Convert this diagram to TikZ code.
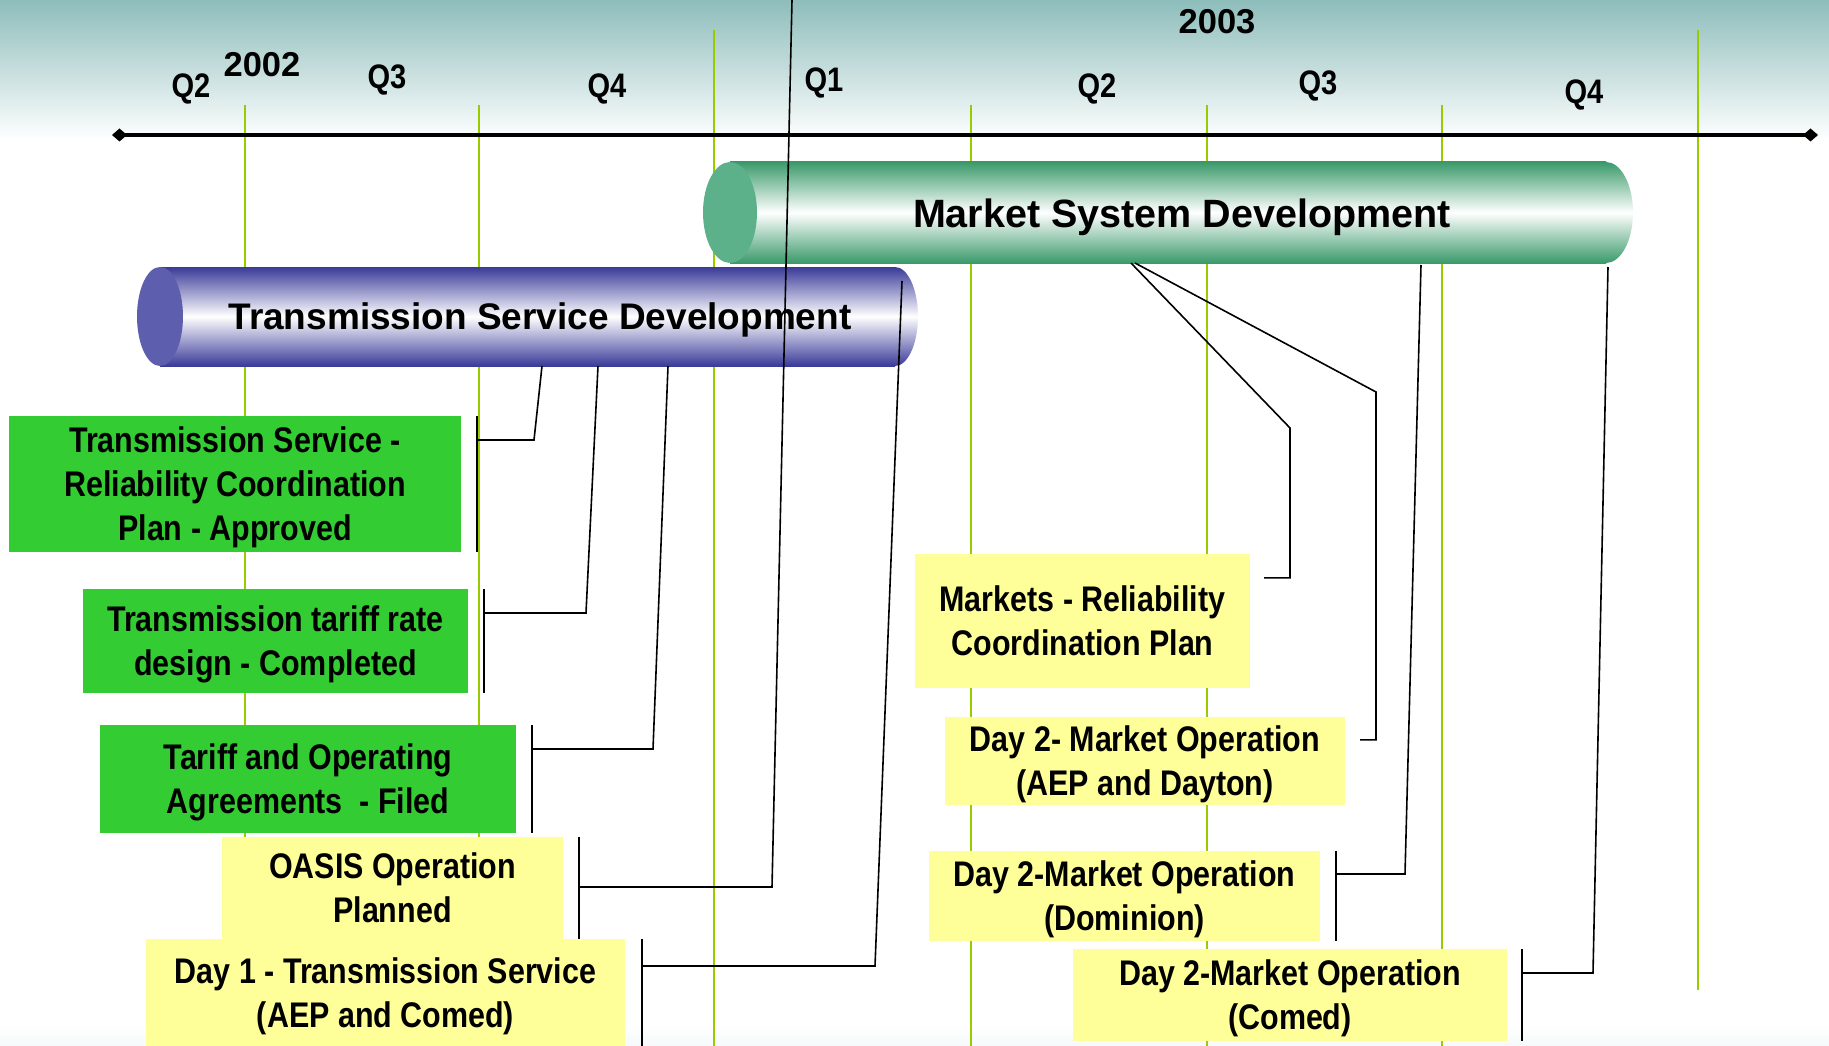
\documentclass[tikz,border=0pt]{standalone}
\usepackage{fontspec}
\setmainfont{Liberation Sans}
\newfontfamily\narrowfont{Liberation Sans}[FakeStretch=0.855]
\usetikzlibrary{arrows.meta}
\definecolor{skyteal}{HTML}{8DBDBB}
\definecolor{gridgreen}{HTML}{99CC00}
\definecolor{msdark}{HTML}{3A9A6A}
\definecolor{msend}{HTML}{5CB08A}
\definecolor{tsdark}{HTML}{3A3A99}
\definecolor{tsend}{HTML}{5E5EAE}
\definecolor{donegreen}{HTML}{33CC33}
\definecolor{planyellow}{HTML}{FFFF99}

\begin{document}
\begin{tikzpicture}[x=1pt,y=-1pt]
\tikzstyle{every node}=[font=\bfseries]
\tikzstyle{quarterlabel}=[font=\narrowfont\bfseries\fontsize{34pt}{40pt}\selectfont]
\tikzstyle{yearlabel}=[font=\bfseries\fontsize{34.5pt}{40pt}\selectfont]
\tikzstyle{gridline}=[gridgreen, line width=2pt]
\tikzstyle{donebox}=[fill=donegreen, align=center, inner sep=0pt, text depth=0pt, font=\narrowfont\bfseries\fontsize{35.6pt}{44pt}\selectfont]
\tikzstyle{planbox}=[donebox, fill=planyellow]
\tikzstyle{linkline}=[line width=1.6pt]
\tikzstyle{mstube}=[top color=msdark, bottom color=msdark, middle color=white]
\tikzstyle{tstube}=[top color=tsdark, bottom color=tsdark, middle color=white]

\useasboundingbox (0,0) rectangle (1829,1046);
\fill[white] (0,0) rectangle (1829,1046);
\shade[top color=skyteal, bottom color=white] (0,0) rectangle (1829,140);
\shade[top color=white, bottom color=skyteal!8] (0,1025) rectangle (1829,1046);

\draw[gridline] (245,105) -- (245,1046);
\draw[gridline] (479,105) -- (479,1046);
\draw[gridline] (714,30) -- (714,1046);
\draw[gridline] (971,105) -- (971,1046);
\draw[gridline] (1207,105) -- (1207,1046);
\draw[gridline] (1442,105) -- (1442,1046);
\draw[gridline] (1698,30) -- (1698,990);

\coordinate (axl) at (112,135);
\coordinate (axr) at (1818,135);
\draw[line width=4pt, {Diamond[length=15pt,width=13pt]}-{Diamond[length=15pt,width=13pt]}] (axl) -- (axr);

\node[quarterlabel] (qa) at (191,89) {Q2};
\node[yearlabel] (ya) at (262,65) {2002};
\node[quarterlabel] (qb) at (387,80) {Q3};
\node[quarterlabel] (qc) at (607,89) {Q4};
\node[quarterlabel] (qd) at (824,83) {Q1};
\node[yearlabel] (yb) at (1217,22) {2003};
\node[quarterlabel] (qe) at (1097,89) {Q2};
\node[quarterlabel] (qf) at (1318,86) {Q3};
\node[quarterlabel] (qg) at (1584,95) {Q4};

\shade[mstube] (1606,212.5) ellipse [x radius=27pt, y radius=50.5pt];
\shade[mstube] (730,162) rectangle (1606,263);
\fill[msend] (730,212.5) ellipse [x radius=27pt, y radius=50.5pt];
\node[text depth=0pt, font=\bfseries\fontsize{39.5pt}{44pt}\selectfont] (msd) at (1182,213) {Market System Development};

\shade[tstube] (895,316.5) ellipse [x radius=23pt, y radius=49.5pt];
\shade[tstube] (160,267) rectangle (895,366);
\fill[tsend] (160,316.5) ellipse [x radius=23pt, y radius=49.5pt];
\node[text depth=0pt, font=\bfseries\fontsize{37pt}{44pt}\selectfont] (tsd) at (540,316) {Transmission Service Development};

\node[donebox, minimum width=452pt, minimum height=136pt] (tsplan) at (235,484) {Transmission Service -\\Reliability Coordination\\Plan - Approved};
\node[donebox, minimum width=385pt, minimum height=104pt] (tariff) at (275.5,641) {Transmission tariff rate\\design - Completed};
\node[donebox, minimum width=416pt, minimum height=108pt] (agree) at (308,779) {Tariff and Operating\\Agreements\ \ - Filed};
\node[planbox, minimum width=341pt, minimum height=102pt] (oasis) at (392.5,888) {OASIS Operation\\Planned};
\node[planbox, minimum width=479pt, minimum height=107pt] (dayone) at (385.5,992.5) {Day 1 - Transmission Service\\(AEP and Comed)};
\node[planbox, minimum width=335pt, minimum height=134pt] (mrcp) at (1082.5,621) {Markets - Reliability\\Coordination Plan};
\node[planbox, minimum width=400pt, minimum height=88pt] (dayton) at (1145,761) {Day 2- Market Operation\\(AEP and Dayton)};
\node[planbox, minimum width=391pt, minimum height=90pt] (dominion) at (1124.5,896) {Day 2-Market Operation\\(Dominion)};
\node[planbox, minimum width=434pt, minimum height=92pt] (comed) at (1290,995) {Day 2-Market Operation\\(Comed)};

\coordinate (tsplanknee) at (534,440);
\coordinate (tsplantip) at (542,366);
\coordinate (tariffknee) at (586,613);
\coordinate (tarifftip) at (598,366);
\coordinate (agreeknee) at (653,749);
\coordinate (agreetip) at (668,366);
\coordinate (oasisknee) at (772,887);
\coordinate (oasistip) at (792,0);
\coordinate (dayoneknee) at (875,966);
\coordinate (dayonetip) at (902,281);
\coordinate (mrcpknee) at (1290,428);
\coordinate (mrcptip) at (1131,263);
\coordinate (daytonknee) at (1376,392);
\coordinate (daytontip) at (1135,263);
\coordinate (dominionknee) at (1405,874);
\coordinate (dominiontip) at (1421,265);
\coordinate (comedknee) at (1593,973);
\coordinate (comedtip) at (1608,267);

\draw[linkline] ([xshift=16pt]tsplan.north east) -- ([xshift=16pt]tsplan.south east);
\draw[linkline] ([xshift=16pt]tsplan.east |- tsplanknee) -- (tsplanknee) -- (tsplantip);
\draw[linkline] ([xshift=16pt]tariff.north east) -- ([xshift=16pt]tariff.south east);
\draw[linkline] ([xshift=16pt]tariff.east |- tariffknee) -- (tariffknee) -- (tarifftip);
\draw[linkline] ([xshift=16pt]agree.north east) -- ([xshift=16pt]agree.south east);
\draw[linkline] ([xshift=16pt]agree.east |- agreeknee) -- (agreeknee) -- (agreetip);
\draw[linkline] ([xshift=16pt]oasis.north east) -- ([xshift=16pt]oasis.south east);
\draw[linkline] ([xshift=16pt]oasis.east |- oasisknee) -- (oasisknee) -- (oasistip);
\draw[linkline] ([xshift=17pt]dayone.north east) -- ([xshift=17pt]dayone.south east);
\draw[linkline] ([xshift=17pt]dayone.east |- dayoneknee) -- (dayoneknee) -- (dayonetip);
\draw[linkline] ([xshift=14pt,yshift=-24pt]mrcp.north east) -| (mrcpknee) -- (mrcptip);
\draw[linkline] ([xshift=15pt,yshift=-23pt]dayton.north east) -| (daytonknee) -- (daytontip);
\draw[linkline] ([xshift=16pt]dominion.north east) -- ([xshift=16pt]dominion.south east);
\draw[linkline] ([xshift=16pt]dominion.east |- dominionknee) -- (dominionknee) -- (dominiontip);
\draw[linkline] ([xshift=15pt]comed.north east) -- ([xshift=15pt]comed.south east);
\draw[linkline] ([xshift=15pt]comed.east |- comedknee) -- (comedknee) -- (comedtip);
\end{tikzpicture}
\end{document}
